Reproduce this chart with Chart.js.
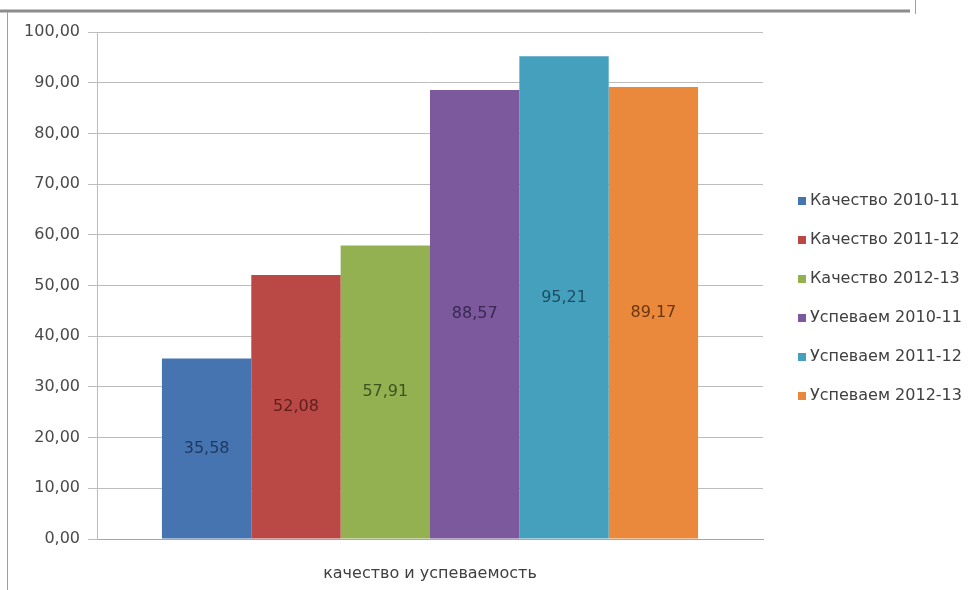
<!DOCTYPE html>
<html>
<head>
<meta charset="utf-8">
<script src="https://cdn.jsdelivr.net/npm/chart.js@4/dist/chart.umd.min.js"></script>
<style>
html,body{margin:0;padding:0;background:#fff;}
#wrap{width:980px;height:590px;position:relative;}
</style>
</head>
<body>
<div id="wrap"><canvas id="c" width="980" height="590"></canvas></div>
<script>
const categories = ["качество и успеваемость"];
const seriesNames = ["Качество 2010-11","Качество 2011-12","Качество 2012-13","Успеваем 2010-11","Успеваем 2011-12","Успеваем 2012-13"];
const seriesValues = [35.58, 52.08, 57.91, 88.57, 95.21, 89.17];
const seriesColors = ["#4674B0","#BA4946","#93B151","#7B599C","#44A0BD","#EA893B"];
const labelColors = ["#1F3A60","#5E1E1C","#3E5220","#3A2752","#1C4E60","#6B3510"];
const yTicks = [0,10,20,30,40,50,60,70,80,90,100];

const FONT = "'DejaVu Sans', 'Liberation Sans', sans-serif";
const FSIZE = 16;

const frame = {
  id:'frame',
  beforeDraw(chart){
    const ctx = chart.ctx;
    ctx.save();
    ctx.fillStyle = '#fff';
    ctx.fillRect(0,0,chart.width,chart.height);
    ctx.strokeStyle = '#8c8c8c';
    ctx.lineWidth = 3;
    ctx.beginPath(); ctx.moveTo(0,11); ctx.lineTo(910,11); ctx.stroke();
    ctx.lineWidth = 1;
    ctx.strokeStyle = '#a0a0a0';
    ctx.beginPath(); ctx.moveTo(915.5,0); ctx.lineTo(915.5,14); ctx.stroke();
    ctx.beginPath(); ctx.moveTo(7.5,12); ctx.lineTo(7.5,590); ctx.stroke();
    ctx.restore();
  }
};

const barLabels = {
  id:'barLabels',
  afterDatasetsDraw(chart){
    const ctx = chart.ctx;
    ctx.save();
    ctx.font = FSIZE + "px " + FONT;
    ctx.textAlign = 'center';
    ctx.textBaseline = 'middle';
    chart.data.datasets.forEach((ds,i)=>{
      const meta = chart.getDatasetMeta(i);
      meta.data.forEach((bar,j)=>{
        const v = ds.data[j];
        ctx.fillStyle = labelColors[i];
        ctx.fillText(v.toFixed(2).replace('.',','), bar.x, (bar.y+bar.base)/2);
      });
    });
    ctx.restore();
  }
};

const legendPlugin = {
  id:'customLegend',
  afterDraw(chart){
    const ctx = chart.ctx;
    ctx.save();
    ctx.font = FSIZE + "px " + FONT;
    ctx.textBaseline = 'middle';
    ctx.textAlign = 'left';
    const x0 = 798, y0 = 201, step = 39;
    chart.data.datasets.forEach((ds,i)=>{
      const y = y0 + i*step;
      ctx.fillStyle = ds.backgroundColor;
      ctx.fillRect(x0, y-4, 8, 8);
      ctx.fillStyle = '#404040';
      ctx.fillText(ds.label, x0+12, y);
    });
    ctx.restore();
  }
};

new Chart(document.getElementById('c'), {
  type:'bar',
  data:{
    labels: categories,
    datasets: seriesNames.map((n,i)=>({
      label:n,
      data:[seriesValues[i]],
      backgroundColor:seriesColors[i],
      borderWidth:0,
      barPercentage:1,
      categoryPercentage:0.805
    }))
  },
  options:{
    responsive:false,
    animation:false,
    layout:{padding:{left:0,right:217,top:32,bottom:0}},
    plugins:{legend:{display:false},tooltip:{enabled:false}},
    scales:{
      x:{
        grid:{display:false},
        border:{display:true,color:'#a6a6a6',width:1},
        ticks:{font:{size:FSIZE,family:FONT},color:'#404040',padding:17},
        afterFit(s){ s.height = 51; }
      },
      y:{
        min:0,max:100,
        afterBuildTicks(s){ s.ticks = yTicks.map(v=>({value:v})); },
        ticks:{
          font:{size:FSIZE,family:FONT},color:'#4a4a4a',padding:8,
          callback:v=>Number(v).toFixed(2).replace('.',',')
        },
        grid:{color:'#bcbcbc',lineWidth:1,tickLength:9,drawTicks:true},
        border:{display:true,color:'#bcbcbc',width:1},
        afterFit(s){ s.width = 97; }
      }
    }
  },
  plugins:[frame,barLabels,legendPlugin]
});
</script>
</body>
</html>
